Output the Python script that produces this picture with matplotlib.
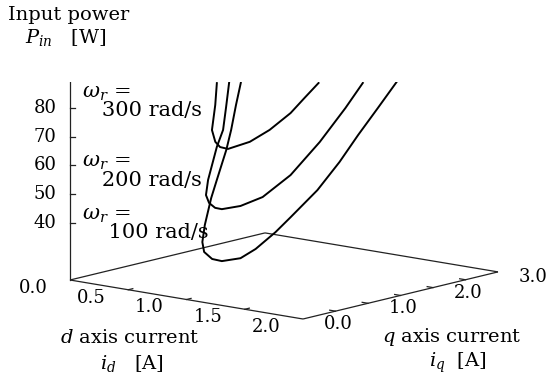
import numpy as np
import matplotlib
matplotlib.use("Agg")
import matplotlib.pyplot as plt

plt.rcParams['font.family'] = ['DejaVu Serif']
plt.rcParams['mathtext.fontset'] = 'dejavuserif'

# ---------------- data ----------------
p_ticks = [40, 50, 60, 70, 80]
d_ticks = [0.0, 0.5, 1.0, 1.5, 2.0]
q_ticks = [0.0, 1.0, 2.0, 3.0]
d_minor = [0.5, 1.0, 1.5]
q_minor = [0.5, 1.0, 1.5, 2.0, 2.5]
d_range = [0.0, 2.0]
q_range = [0.0, 3.0]
p_range = [20.0, 90.0]

speed_labels = ["300 rad/s", "200 rad/s", "100 rad/s"]

id_100 = [0.06, 0.08, 0.10, 0.12, 0.15, 0.18, 0.22, 0.26, 0.32, 0.40, 0.50,
          0.66, 0.79, 0.96, 1.09, 1.32, 1.51, 1.67, 1.84, 2.00]
iq_100 = [2.52, 2.41, 2.30, 2.19, 1.99, 1.85, 1.68, 1.57, 1.49, 1.47, 1.44,
          1.44, 1.44, 1.44, 1.44, 1.44, 1.44, 1.44, 1.44, 1.44]
P_100 = [75.3, 68.3, 60.4, 54.2, 45.0, 39.7, 31.5, 26.4, 23.8, 22.0, 22.1,
         24.2, 28.3, 35.3, 41.4, 52.4, 63.5, 74.0, 84.6, 94.7]

id_200 = [0.06, 0.09, 0.12, 0.15, 0.22, 0.28, 0.34, 0.42, 0.50,
          0.66, 0.85, 1.09, 1.34, 1.56, 1.71]
iq_200 = [2.34, 2.24, 2.14, 1.99, 1.73, 1.59, 1.53, 1.48, 1.44,
          1.44, 1.44, 1.44, 1.44, 1.44, 1.44]
P_200 = [76.3, 68.6, 61.4, 56.5, 46.9, 42.8, 40.8, 39.9, 40.2,
         42.4, 46.8, 56.1, 69.3, 82.6, 92.4]

id_300 = [0.10, 0.17, 0.27, 0.36, 0.44, 0.55, 0.74, 0.91, 1.09, 1.21, 1.33]
iq_300 = [2.08, 1.93, 1.70, 1.59, 1.52, 1.445, 1.44, 1.44, 1.44, 1.44, 1.44]
P_300 = [77.9, 71.6, 64.8, 61.9, 61.0, 61.5, 65.3, 70.6, 77.7, 83.8, 89.8]

# ---------------- oblique projection (pixel space) ----------------
X0, Y0 = 70.0, 280.0          # screen position of (id=0, iq=0, P=P0)
DX, DY = 116.5, 19.5          # pixels per A of id
QX, QY = 65.0, -15.7          # pixels per A of iq
PS = 2.87                     # pixels per W
P0 = p_range[0]


def proj(i_d, i_q, p):
    i_d = np.asarray(i_d, float)
    i_q = np.asarray(i_q, float)
    p = np.asarray(p, float)
    x = X0 + DX * i_d + QX * i_q
    y = Y0 + DY * i_d + QY * i_q - PS * (p - P0)
    return x, y


W, H = 550, 382
TOP = 82
fig = plt.figure(figsize=(W / 100, H / 100), dpi=100)
ax = fig.add_axes([0, 0, 1, (H - TOP) / H])
ax.set_xlim(0, W)
ax.set_ylim(H, TOP)
ax.axis('off')

axc = '#222222'
alw = 0.9

# floor box and vertical axis
d0, d1 = d_range
q0, q1 = q_range
for (a, b) in [((d0, q0), (d1, q0)), ((d1, q0), (d1, q1)),
               ((d0, q0), (d0, q1)), ((d0, q1), (d1, q1))]:
    x, y = proj([a[0], b[0]], [a[1], b[1]], [P0, P0])
    ax.plot(x, y, color=axc, lw=alw, solid_capstyle='butt')
x, y = proj([d0, d0], [q0, q0], p_range)
ax.plot(x, y, color=axc, lw=alw)

# P ticks
for p in p_ticks:
    x, y = proj(d0, q0, p)
    ax.plot([float(x), float(x) + 5], [float(y), float(y)], color=axc, lw=alw)
    ax.text(float(x) - 25, float(y), f"{p}", ha='center', va='center', fontsize=13)

# d ticks
for d in d_minor:
    x, y = proj([d, d], [q0, q0 + 0.07], [P0, P0])
    ax.plot(x, y, color=axc, lw=alw)
for d in d_ticks:
    x, y = proj(d, q0, P0)
    ax.text(float(x) - 37, float(y) + 8, f"{d:.1f}", ha='center', va='center', fontsize=13)

# q ticks
for q in q_minor:
    x, y = proj([d1, d1 - 0.05], [q, q], [P0, P0])
    ax.plot(x, y, color=axc, lw=alw)
for q in q_ticks:
    x, y = proj(d1, q, P0)
    ax.text(float(x) + 35, float(y) + 5, f"{q:.1f}", ha='center', va='center', fontsize=13)

# curves
for i_d, i_q, p in [(id_100, iq_100, P_100), (id_200, iq_200, P_200), (id_300, iq_300, P_300)]:
    x, y = proj(i_d, i_q, p)
    ax.plot(x, y, color='black', lw=1.4, solid_joinstyle='round')

# axis titles
ax.text(8, 20, "Input power", ha='left', va='baseline', fontsize=14)
ax.text(25, 43, r"$P_{in}$   [W]", ha='left', va='baseline', fontsize=14)
ax.text(130, 338, r"$d$ axis current", ha='center', va='center', fontsize=14)
ax.text(132, 363, r"$i_d$   [A]", ha='center', va='center', fontsize=14)
ax.text(452, 337, r"$q$ axis current", ha='center', va='center', fontsize=14)
ax.text(458, 363, r"$i_q$  [A]", ha='center', va='center', fontsize=14)

# speed labels (two-line texts, second line indented)
for lab, ytop, indent in zip(speed_labels, [84, 153, 206], ["   ", "   ", "    "]):
    ax.text(82, ytop, r"$\omega_r$ =" + "\n" + indent + lab, ha='left', va='top',
            fontsize=15, linespacing=0.9)

fig.savefig("out.png", dpi=100)
